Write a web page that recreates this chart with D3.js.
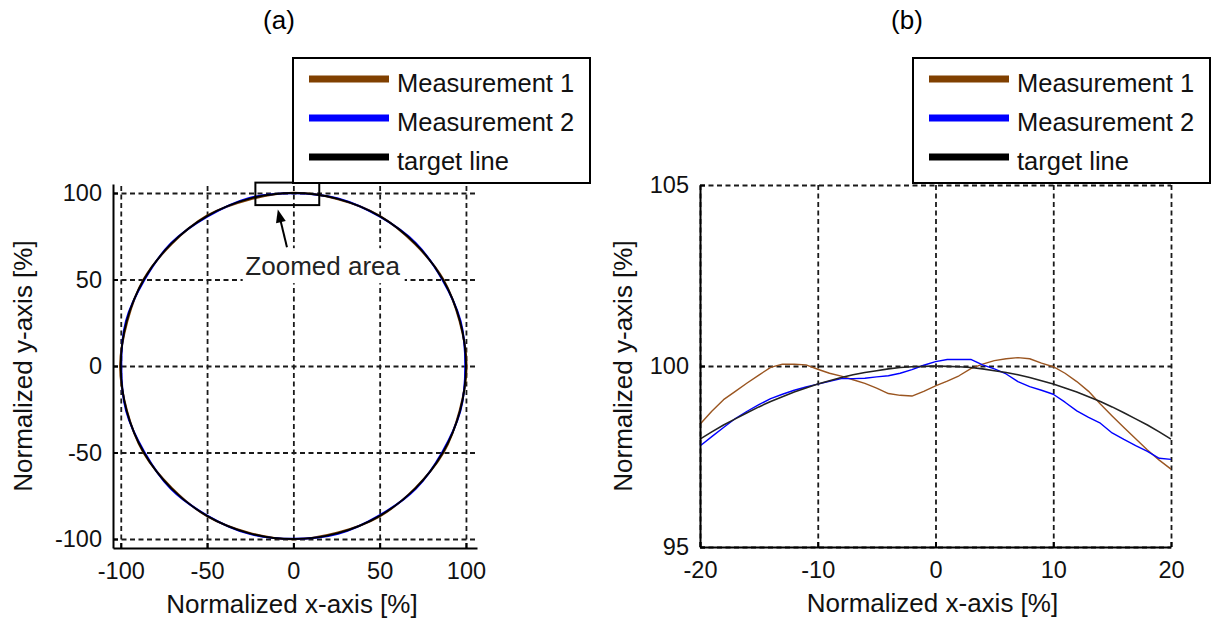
<!DOCTYPE html>
<html>
<head>
<meta charset="utf-8">
<script src="https://cdn.jsdelivr.net/npm/d3@7"></script>
<style>
    body { margin: 0; background: #fff; }
    svg { display: block; font-family: Arial, "Liberation Sans", Helvetica, sans-serif; }
    .axis text { font-size: 23.5px; fill: #111; }
    .axis path, .axis line { stroke: #000; stroke-width: 2; }
    .grid line { stroke: #1a1a1a; stroke-width: 1.8; stroke-dasharray: 5, 3.5; }
    .grid path { display: none; }
    .axis-label { font-size: 26px; fill: #111; }
    .panel-title { font-size: 26px; fill: #000; }
    .legend-box { fill: #fff; stroke: #000; stroke-width: 2; }
    .legend text { font-size: 25.5px; fill: #111; }
    .note { font-size: 26px; fill: #222; }
</style>
</head>
<body>
<div id="chart"></div>
<script>
// ---- panel (a): full contour, radius [%] every 15 degrees ----
const circleAngles = [0, 15, 30, 45, 60, 75, 90, 105, 120, 135, 150, 165, 180, 195, 210, 225, 240, 255, 270, 285, 300, 315, 330, 345];
const circleMeas1 = [100.4, 99.7, 100.3, 99.6, 100.2, 99.8, 100.1, 99.5, 100.3, 99.7, 100.2, 99.6, 100.4, 99.8, 100.3, 99.6, 100.2, 99.7, 100.1, 99.6, 100.3, 99.8, 100.4, 99.7];
const circleMeas2 = [99.6, 100.3, 99.7, 100.4, 99.8, 100.2, 99.9, 100.4, 99.7, 100.3, 99.6, 100.4, 99.7, 100.3, 99.6, 100.4, 99.8, 100.3, 99.9, 100.4, 99.7, 100.3, 99.6, 100.2];
const circleTarget = [100, 100, 100, 100, 100, 100, 100, 100, 100, 100, 100, 100, 100, 100, 100, 100, 100, 100, 100, 100, 100, 100, 100, 100];

// ---- panel (b): zoom on the top of the contour ----
const zoomX = [-20, -19, -18, -17, -16, -15, -14, -13, -12, -11, -10, -9, -8, -7, -6, -5, -4, -3, -2, -1, 0,
    1, 2, 3, 4, 5, 6, 7, 8, 9, 10, 11, 12, 13, 14, 15, 16, 17, 18, 19, 20];
const zoomMeas1 = [98.39, 98.75, 99.07, 99.30, 99.53, 99.75, 99.96, 100.05, 100.05, 100.03, 99.91, 99.80, 99.72, 99.62, 99.52, 99.39, 99.24, 99.19, 99.17, 99.30, 99.45,
    99.58, 99.73, 99.93, 100.05, 100.15, 100.20, 100.23, 100.20, 100.08, 99.98, 99.80, 99.57, 99.30, 98.95, 98.62, 98.30, 97.99, 97.68, 97.40, 97.15];
const zoomMeas2 = [97.79, 98.05, 98.30, 98.55, 98.75, 98.93, 99.10, 99.22, 99.33, 99.42, 99.50, 99.58, 99.65, 99.65, 99.66, 99.70, 99.73, 99.80, 99.90, 100.02, 100.12,
    100.18, 100.18, 100.18, 100.03, 99.92, 99.78, 99.57, 99.43, 99.33, 99.22, 99.00, 98.76, 98.58, 98.42, 98.15, 97.97, 97.80, 97.64, 97.45, 97.42];
const zoomTarget = [97.98, 98.18, 98.37, 98.54, 98.71, 98.87, 99.02, 99.15, 99.28, 99.39, 99.50, 99.59, 99.68, 99.76, 99.82, 99.87, 99.92, 99.96, 99.98, 99.99, 100.00,
    99.99, 99.98, 99.96, 99.92, 99.87, 99.82, 99.76, 99.68, 99.59, 99.50, 99.39, 99.28, 99.15, 99.02, 98.87, 98.71, 98.54, 98.37, 98.18, 97.98];

const seriesNames = ['Measurement 1', 'Measurement 2', 'target line'];
const seriesColors = ['#804000', '#0000ff', '#000000'];

const ticksA = [-100, -50, 0, 50, 100];
const ticksBx = [-20, -10, 0, 10, 20];
const ticksBy = [95, 100, 105];

// zoom box drawn in panel (a), in data units
const zoomBox = { x0: -22, x1: 15, y0: 93, y1: 106 };

class ProfilePlot {

    constructor(_config, _series) {
        this.config = {
            svg: _config.svg,
            left: _config.left,
            top: _config.top,
            width: _config.width,
            height: _config.height,
            xDomain: _config.xDomain,
            yDomain: _config.yDomain,
            xTicks: _config.xTicks,
            yTicks: _config.yTicks,
            xLabelShift: _config.xLabelShift || 0,
            yLabelX: _config.yLabelX
        };
        this.series = _series;
        this.initVis();
    }

    initVis() {
        let vis = this;
        const c = vis.config;

        vis.width = c.width;
        vis.height = c.height;

        vis.xScale = d3.scaleLinear().domain(c.xDomain).range([0, vis.width]);
        vis.yScale = d3.scaleLinear().domain(c.yDomain).range([vis.height, 0]);

        vis.chart = c.svg.append('g')
            .attr('transform', `translate(${c.left},${c.top})`);

        // dashed grid
        vis.chart.append('g')
            .attr('class', 'grid')
            .attr('transform', `translate(0,${vis.height})`)
            .call(d3.axisBottom(vis.xScale).tickValues(c.xTicks).tickSizeInner(-vis.height).tickSizeOuter(0).tickFormat(''));

        vis.chart.append('g')
            .attr('class', 'grid')
            .call(d3.axisLeft(vis.yScale).tickValues(c.yTicks).tickSizeInner(-vis.width).tickSizeOuter(0).tickFormat(''));

        vis.lineGroup = vis.chart.append('g');

        vis.xAxisGroup = vis.chart.append('g')
            .attr('class', 'axis x-axis')
            .attr('transform', `translate(0,${vis.height})`);

        vis.yAxisGroup = vis.chart.append('g')
            .attr('class', 'axis y-axis');

        vis.chart.append('text')
            .attr('class', 'axis-label')
            .attr('text-anchor', 'middle')
            .attr('x', vis.width / 2 + c.xLabelShift)
            .attr('y', vis.height + 65)
            .text('Normalized x-axis [%]');

        vis.chart.append('text')
            .attr('class', 'axis-label')
            .attr('text-anchor', 'middle')
            .attr('transform', 'rotate(-90)')
            .attr('x', -vis.height / 2)
            .attr('y', c.yLabelX)
            .text('Normalized y-axis [%]');

        vis.renderVis();
    }

    renderVis() {
        let vis = this;
        const c = vis.config;

        vis.lineGroup.selectAll('.series')
            .data(vis.series)
            .join('path')
            .attr('class', 'series')
            .attr('fill', 'none')
            .attr('stroke', d => d.color)
            .attr('stroke-width', d => d.width)
            .attr('stroke-linejoin', 'round')
            .attr('d', d => d3.line()
                .x(p => vis.xScale(p.x))
                .y(p => vis.yScale(p.y))
                .curve(d.curve)(d.points));

        vis.xAxisGroup.call(d3.axisBottom(vis.xScale)
            .tickValues(c.xTicks)
            .tickSizeInner(-5)
            .tickSizeOuter(0)
            .tickPadding(14)
            .tickFormat(d => String(d)));

        vis.yAxisGroup.call(d3.axisLeft(vis.yScale)
            .tickValues(c.yTicks)
            .tickSizeInner(-5)
            .tickSizeOuter(0)
            .tickPadding(11)
            .tickFormat(d => String(d)));

        vis.chart.selectAll('.axis text').attr('font-family', null).attr('font-size', null);
    }
}

function drawLegend(svg, x, y) {
    const g = svg.append('g').attr('class', 'legend');
    g.append('rect')
        .attr('class', 'legend-box')
        .attr('x', x).attr('y', y)
        .attr('width', 297).attr('height', 125);

    const rows = g.selectAll('.row')
        .data(seriesNames)
        .join('g')
        .attr('class', 'row')
        .attr('transform', (d, i) => `translate(${x},${y + 21 + i * 39})`);

    rows.append('line')
        .attr('x1', 16).attr('x2', 96)
        .attr('stroke', (d, i) => seriesColors[i])
        .attr('stroke-width', 7);

    rows.append('text')
        .attr('x', 104)
        .attr('y', 12.5)
        .text(d => d);
}

const svg = d3.select('#chart').append('svg')
    .attr('width', 1212)
    .attr('height', 621);

svg.append('rect').attr('width', 1212).attr('height', 621).attr('fill', '#fff');

const toXY = radii => circleAngles.map((a, i) => ({
    x: radii[i] * Math.cos(a * Math.PI / 180),
    y: radii[i] * Math.sin(a * Math.PI / 180)
}));

const plotA = new ProfilePlot({
    svg: svg,
    left: 113, top: 184, width: 364, height: 364,
    xDomain: [-104.5, 106.4],
    yDomain: [-105.2, 105.2],
    xTicks: ticksA, yTicks: ticksA,
    xLabelShift: -3,
    yLabelX: -81
}, [
    { color: seriesColors[0], width: 2, points: toXY(circleMeas1), curve: d3.curveCatmullRomClosed },
    { color: seriesColors[1], width: 2, points: toXY(circleMeas2), curve: d3.curveCatmullRomClosed },
    { color: seriesColors[2], width: 1.9, points: toXY(circleTarget), curve: d3.curveCatmullRomClosed }
]);

const toPts = ys => zoomX.map((x, i) => ({ x: x, y: ys[i] }));

const plotB = new ProfilePlot({
    svg: svg,
    left: 700, top: 185, width: 471, height: 362,
    xDomain: [-20, 20],
    yDomain: [95, 105],
    xTicks: ticksBx, yTicks: ticksBy,
    xLabelShift: -3,
    yLabelX: -68
}, [
    { color: '#9a5520', width: 1.4, points: toPts(zoomMeas1), curve: d3.curveLinear },
    { color: seriesColors[1], width: 1.4, points: toPts(zoomMeas2), curve: d3.curveLinear },
    { color: '#222', width: 1.6, points: toPts(zoomTarget), curve: d3.curveLinear }
]);

// zoomed-area annotation on panel (a)
const ax = plotA.xScale, ay = plotA.yScale;
plotA.chart.append('rect')
    .attr('x', ax(zoomBox.x0))
    .attr('y', ay(zoomBox.y1))
    .attr('width', ax(zoomBox.x1) - ax(zoomBox.x0))
    .attr('height', ay(zoomBox.y0) - ay(zoomBox.y1))
    .attr('fill', 'none')
    .attr('stroke', '#000')
    .attr('stroke-width', 2);

const noteX = ax(17), noteY = ay(52.5);
plotA.chart.append('rect')
    .attr('x', noteX - 80).attr('y', noteY - 27)
    .attr('width', 162).attr('height', 35)
    .attr('fill', '#fff');

plotA.chart.append('text')
    .attr('class', 'note')
    .attr('text-anchor', 'middle')
    .attr('x', noteX)
    .attr('y', noteY)
    .text('Zoomed area');

const tail = [ax(-3.7), ay(68.6)], tip = [ax(-9), ay(90.5)];
const ang = Math.atan2(tip[1] - tail[1], tip[0] - tail[0]);
plotA.chart.append('line')
    .attr('x1', tail[0]).attr('y1', tail[1])
    .attr('x2', tip[0] - 6 * Math.cos(ang)).attr('y2', tip[1] - 6 * Math.sin(ang))
    .attr('stroke', '#000').attr('stroke-width', 2);
const head = [
    tip,
    [tip[0] - 13 * Math.cos(ang) + 5 * Math.sin(ang), tip[1] - 13 * Math.sin(ang) - 5 * Math.cos(ang)],
    [tip[0] - 13 * Math.cos(ang) - 5 * Math.sin(ang), tip[1] - 13 * Math.sin(ang) + 5 * Math.cos(ang)]
];
plotA.chart.append('path')
    .attr('d', d3.line()(head) + 'Z')
    .attr('fill', '#000');

drawLegend(svg, 293, 58);
drawLegend(svg, 913, 58);

svg.append('text').attr('class', 'panel-title').attr('text-anchor', 'middle')
    .attr('x', 279).attr('y', 29).text('(a)');
svg.append('text').attr('class', 'panel-title').attr('text-anchor', 'middle')
    .attr('x', 907).attr('y', 29).text('(b)');
</script>
</body>
</html>
